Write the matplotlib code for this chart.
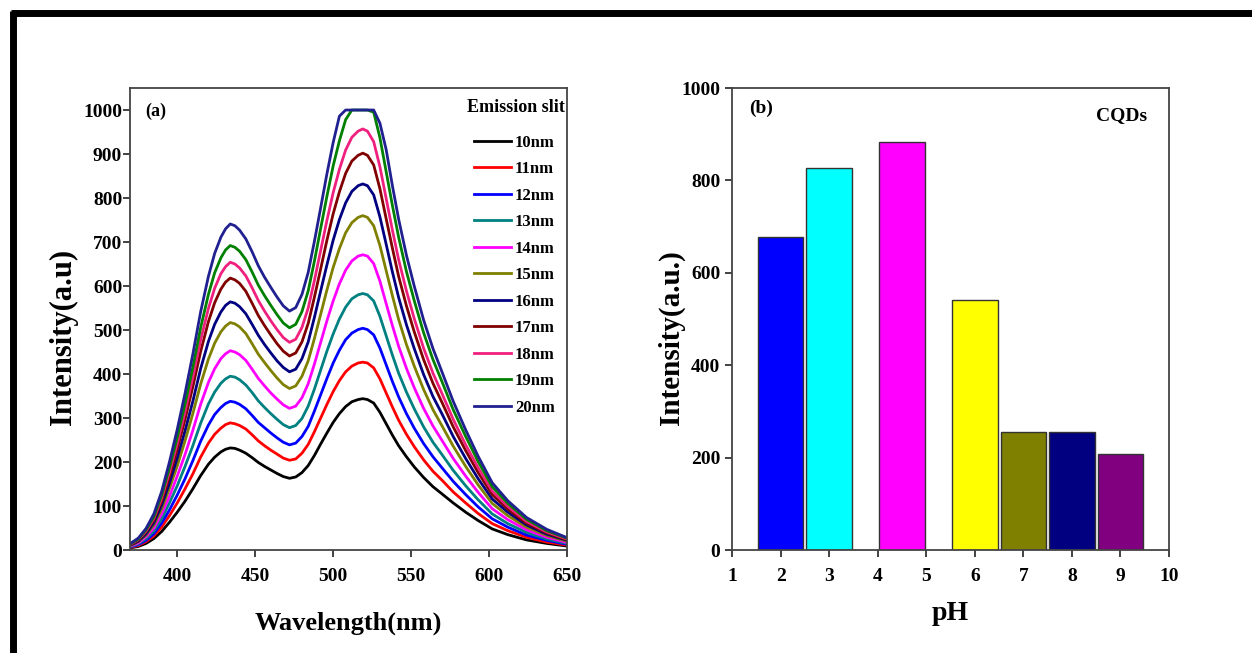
import matplotlib
matplotlib.use("Agg")
import matplotlib.pyplot as plt
from matplotlib.lines import Line2D

plt.rcParams["font.family"] = ["Liberation Serif", "DejaVu Serif"]
plt.rcParams["font.weight"] = "bold"

# ---- panel (a): emission spectra for different slit widths ----
wavelength = [370, 375, 380, 385, 390, 395, 400, 405, 410, 415, 420, 424, 428, 431, 434,
              437, 440, 444, 448, 452, 456, 460, 464, 468, 472,
              476, 480, 484, 488, 492, 496, 500, 504, 508, 512, 516, 519,
              522, 526, 530, 534, 538, 542, 547, 552, 558, 564, 570, 577, 585,
              593, 602, 612, 624, 637, 650]

slit_labels = ["10nm", "11nm", "12nm", "13nm", "14nm", "15nm",
               "16nm", "17nm", "18nm", "19nm", "20nm"]
slit_colors = ["#000000", "#ff0000", "#0000ff", "#008080", "#ff00ff", "#808000",
               "#000080", "#800000", "#f0207f", "#008000", "#202090"]

s10 = [5, 8, 15, 26, 42, 63, 86, 111, 139, 169, 195, 211, 223, 229, 232,
       231, 227, 220, 210, 199, 190, 182, 174, 167, 163,
       166, 176, 192, 215, 241, 266, 290, 310, 326, 337, 342, 344,
       342, 334, 313, 287, 261, 237, 212, 189, 165, 144, 127, 107, 86,
       67, 48, 35, 23, 15, 9]
s11 = [6, 10, 19, 32, 52, 78, 107, 139, 173, 211, 243, 263, 277, 285, 289,
       287, 283, 275, 262, 248, 237, 227, 218, 209, 204,
       207, 220, 240, 269, 300, 331, 360, 385, 405, 418, 425, 427,
       425, 414, 389, 357, 325, 295, 263, 235, 205, 179, 158, 132, 107,
       83, 60, 44, 29, 18, 11]
s12 = [7, 12, 22, 37, 61, 91, 125, 162, 203, 247, 284, 308, 324, 333, 338,
       336, 331, 321, 306, 290, 278, 266, 255, 245, 239,
       243, 258, 281, 316, 353, 390, 425, 454, 478, 493, 501, 504,
       501, 489, 459, 421, 383, 348, 310, 277, 242, 212, 186, 156, 126,
       98, 71, 52, 34, 22, 13]
s13 = [8, 14, 26, 43, 71, 107, 146, 190, 237, 288, 332, 359, 379, 389, 395,
       393, 387, 375, 358, 339, 324, 310, 297, 285, 278,
       283, 299, 327, 366, 409, 452, 491, 525, 552, 571, 580, 583,
       580, 566, 531, 487, 443, 402, 359, 321, 280, 245, 216, 181, 146,
       114, 82, 60, 40, 25, 15]
s14 = [9, 16, 30, 50, 82, 122, 168, 217, 272, 331, 381, 412, 435, 446, 453,
       450, 444, 431, 411, 390, 373, 357, 343, 330, 322,
       327, 346, 378, 423, 472, 521, 566, 605, 636, 657, 668, 671,
       668, 651, 611, 560, 510, 463, 413, 369, 322, 282, 248, 208, 168,
       131, 94, 69, 46, 29, 17]
s15 = [10, 19, 34, 57, 93, 140, 191, 248, 310, 377, 434, 470, 496, 509, 517,
       514, 507, 492, 469, 445, 426, 408, 391, 376, 367,
       373, 395, 430, 481, 536, 591, 642, 685, 721, 744, 756, 760,
       756, 737, 692, 635, 578, 524, 467, 418, 365, 319, 281, 236, 190,
       148, 106, 78, 52, 33, 20]
s16 = [11, 20, 37, 62, 102, 152, 209, 271, 338, 412, 474, 513, 541, 556, 564,
       561, 553, 537, 513, 488, 467, 448, 430, 415, 405,
       411, 435, 473, 529, 589, 648, 704, 751, 789, 815, 828, 832,
       828, 807, 757, 695, 632, 574, 512, 458, 399, 349, 308, 258, 208,
       162, 116, 86, 57, 36, 22]
s17 = [12, 22, 41, 68, 111, 167, 229, 297, 371, 451, 519, 562, 593, 609, 618,
       614, 606, 588, 561, 533, 510, 489, 469, 452, 441,
       448, 473, 515, 575, 639, 704, 764, 814, 856, 884, 897, 902,
       897, 875, 821, 753, 686, 622, 555, 496, 433, 379, 334, 280, 226,
       176, 126, 93, 61, 39, 23]
s18 = [13, 24, 43, 72, 118, 177, 242, 314, 392, 477, 549, 595, 628, 644, 654,
       650, 641, 623, 596, 567, 543, 521, 501, 483, 472,
       479, 506, 550, 613, 681, 749, 812, 865, 909, 938, 952, 957,
       952, 928, 871, 799, 727, 660, 589, 526, 459, 402, 354, 297, 239,
       187, 134, 99, 65, 41, 25]
s19 = [14, 25, 46, 76, 125, 187, 256, 332, 415, 505, 581, 630, 664, 682, 692,
       688, 679, 660, 632, 602, 578, 556, 535, 516, 505,
       513, 542, 589, 657, 731, 804, 873, 930, 978, 1000, 1000, 1000,
       1000, 995, 937, 860, 783, 711, 633, 567, 494, 433, 381, 319, 258,
       201, 144, 106, 70, 44, 27]
s20 = [15, 27, 49, 82, 133, 200, 274, 356, 445, 541, 622, 674, 711, 730, 741,
       737, 727, 707, 678, 646, 620, 597, 575, 555, 543,
       551, 581, 631, 702, 778, 855, 926, 986, 1000, 1000, 1000, 1000,
       1000, 1000, 970, 910, 828, 752, 670, 600, 523, 458, 403, 338, 273,
       213, 153, 112, 74, 47, 28]
spectra = [s10, s11, s12, s13, s14, s15, s16, s17, s18, s19, s20]

# ---- panel (b): intensity vs pH ----
ph_pos = [2, 3, 4.5, 6, 7, 8, 9]
ph_intensity = [678, 826, 884, 541, 255, 255, 208]
bar_colors = ["#0000ff", "#00ffff", "#ff00ff", "#ffff00", "#808000", "#000080", "#800080"]

fig = plt.figure(figsize=(12.52, 6.53), dpi=100)
fig.patch.set_facecolor("white")


def style_ticks(ax):
    ax.tick_params(direction="out", length=5, width=1.2, labelsize=14,
                   colors="#222222", labelcolor="black")
    ax.tick_params(axis="x", pad=8)
    for lab in ax.get_xticklabels() + ax.get_yticklabels():
        lab.set_fontweight("bold")
    for sp in ax.spines.values():
        sp.set_color("#444444")
        sp.set_linewidth(1.3)


# panel (a)
ax1 = fig.add_axes([0.1042, 0.1577, 0.3487, 0.7075])
for y, lab, c in zip(spectra, slit_labels, slit_colors):
    ax1.plot(wavelength, y, color=c, lw=2.0, label=lab, solid_joinstyle="round")
ax1.set_xlim(370, 650)
ax1.set_ylim(0, 1050)
ax1.set_xticks([400, 450, 500, 550, 600, 650])
ax1.set_yticks(range(0, 1001, 100))
style_ticks(ax1)
ax1.tick_params(axis="y", pad=1)
ax1.set_xlabel("Wavelength(nm)", fontsize=19, fontweight="bold")
ax1.xaxis.set_label_coords(0.5, -0.133)
ax1.set_ylabel("Intensity(a.u)", fontsize=22, fontweight="bold")
ax1.yaxis.set_label_coords(-0.12, 0.461)
ax1.text(0.033, 0.95, "(a)", transform=ax1.transAxes, fontsize=13,
         fontweight="bold", va="center")
ax1.text(0.995, 0.957, "Emission slit", transform=ax1.transAxes, fontsize=13,
         fontweight="bold", va="center", ha="right")
leg = ax1.legend(loc="upper right", bbox_to_anchor=(0.972, 0.899), frameon=False,
                 prop={"family": "Liberation Serif", "weight": "bold", "size": 12},
                 handlelength=2.2, handletextpad=0.25, labelspacing=0.63,
                 borderaxespad=0, borderpad=0)

# panel (b)
ax2 = fig.add_axes([0.5847, 0.1577, 0.349, 0.7075])
ax2.bar(ph_pos, ph_intensity, width=0.94, color=bar_colors,
        edgecolor="#333333", linewidth=1.0)
ax2.set_xlim(1, 10)
ax2.set_ylim(0, 1000)
ax2.set_xticks(range(1, 11))
ax2.set_yticks(range(0, 1001, 200))
style_ticks(ax2)
ax2.set_xlabel("pH", fontsize=20, fontweight="bold")
ax2.xaxis.set_label_coords(0.5, -0.11)
ax2.set_ylabel("Intensity(a.u.)", fontsize=21, fontweight="bold")
ax2.yaxis.set_label_coords(-0.108, 0.459)
ax2.text(0.04, 0.955, "(b)", transform=ax2.transAxes, fontsize=14,
         fontweight="bold", va="center")
ax2.text(0.95, 0.94, "CQDs", transform=ax2.transAxes, fontsize=14,
         fontweight="bold", va="center", ha="right")

# thick outer frame (top and left edges)
fig.add_artist(Line2D([0.0085, 1.0], [0.9795, 0.9795], color="black", lw=5,
                      transform=fig.transFigure, solid_capstyle="butt"))
fig.add_artist(Line2D([0.0100, 0.0100], [0.0, 0.9835], color="black", lw=5,
                      transform=fig.transFigure, solid_capstyle="butt"))

fig.savefig("out.png", dpi=100, facecolor="white")
